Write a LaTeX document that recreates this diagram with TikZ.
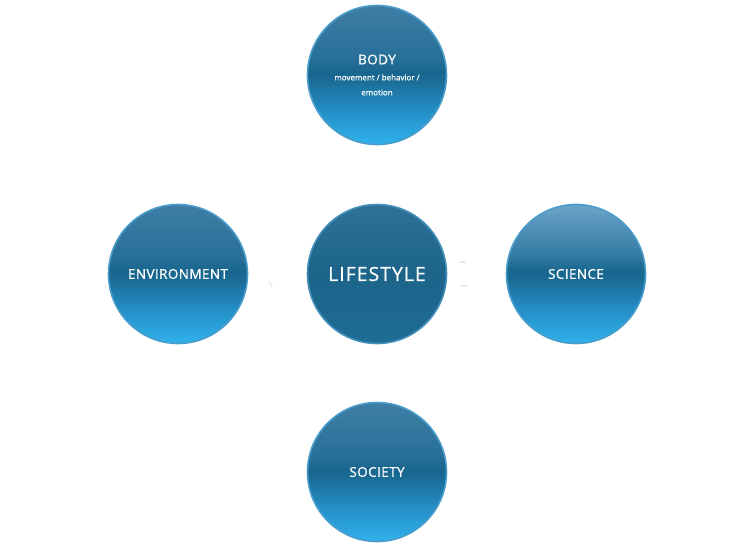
\documentclass[tikz,border=0pt]{standalone}
\usepackage{fontspec}
\setmainfont{Open Sans}[RawFeature={embolden=0.8}]
\newfontfamily\labfont{Open Sans}[RawFeature={embolden=0.8}, LetterSpace=3]
\newfontfamily\corefont{Open Sans}[RawFeature={embolden=0.6}, LetterSpace=5]
\usetikzlibrary{shadings}
\definecolor{rimblue}{HTML}{4A9CCB}
\definecolor{markgray}{HTML}{E4E8EA}
\pgfdeclareverticalshading{ballshade}{100bp}{%
  color(0bp)=(rgb,255:red,48;green,178;blue,235);
  color(25bp)=(rgb,255:red,48;green,178;blue,235);
  color(37bp)=(rgb,255:red,36;green,144;blue,200);
  color(48bp)=(rgb,255:red,27;green,108;blue,150);
  color(51bp)=(rgb,255:red,24;green,102;blue,142);
  color(56bp)=(rgb,255:red,40;green,112;blue,152);
  color(75bp)=(rgb,255:red,62;green,126;blue,166);
  color(100bp)=(rgb,255:red,62;green,126;blue,166)}
\pgfdeclareverticalshading{scishade}{100bp}{%
  color(0bp)=(rgb,255:red,48;green,178;blue,235);
  color(25bp)=(rgb,255:red,48;green,178;blue,235);
  color(37bp)=(rgb,255:red,36;green,144;blue,200);
  color(48bp)=(rgb,255:red,27;green,108;blue,150);
  color(51bp)=(rgb,255:red,24;green,102;blue,142);
  color(57bp)=(rgb,255:red,52;green,124;blue,164);
  color(75bp)=(rgb,255:red,108;green,164;blue,200);
  color(100bp)=(rgb,255:red,108;green,164;blue,200)}
\pgfdeclareverticalshading{coreshade}{100bp}{%
  color(0bp)=(rgb,255:red,30;green,108;blue,148);
  color(25bp)=(rgb,255:red,30;green,108;blue,148);
  color(50bp)=(rgb,255:red,28;green,100;blue,138);
  color(75bp)=(rgb,255:red,46;green,114;blue,152);
  color(100bp)=(rgb,255:red,46;green,114;blue,152)}
\begin{document}
\begin{tikzpicture}[x=1pt,y=-1pt,
  ball/.style={circle, minimum size=139pt, inner sep=0pt, text=white,
    shading=ballshade, draw=rimblue, line width=1.6pt, align=center,
    font=\labfont\fontsize{13.5}{15}\selectfont},
  core/.style={ball, shading=coreshade, draw=rimblue!60!black!20!rimblue,
    font=\corefont\fontsize{19.5}{22}\selectfont}]
\useasboundingbox (0,0) rectangle (752,551);
\node[ball] (body) at (377,75) {BODY\\[1pt]{\rmfamily\fontsize{8}{12.5}\selectfont movement / behavior /}\\{\rmfamily\fontsize{8}{12.5}\selectfont emotion}};
\node[core] (life) at (377,274) {LIFESTYLE};
\node[ball] (env) at (178,274) {ENVIRONMENT};
\node[ball, shading=scishade] (sci) at (576,274) {SCIENCE};
\node[ball] (soc) at (377,472) {SOCIETY};
\coordinate (m1a) at (269,281);
\coordinate (m1b) at (272,287);
\coordinate (m2a) at (460,262);
\coordinate (m2b) at (465,262);
\coordinate (m3a) at (461,286);
\coordinate (m3b) at (467,286);
\draw[markgray, line width=1.2pt, line cap=round] (m1a) -- (m1b);
\draw[markgray, line width=1.2pt, line cap=round] (m2a) -- (m2b);
\draw[markgray, line width=1.2pt, line cap=round] (m3a) -- (m3b);
\end{tikzpicture}
\end{document}
